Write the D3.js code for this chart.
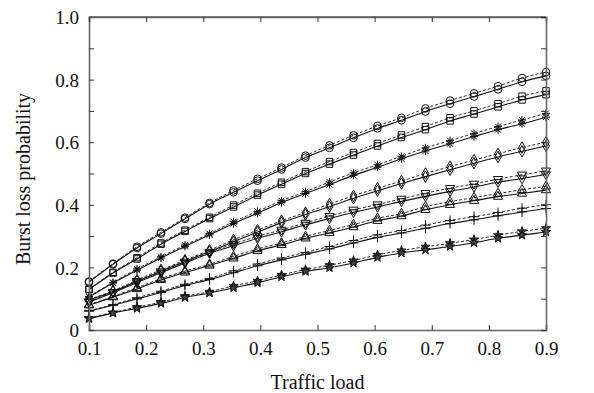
<!DOCTYPE html>
<html>
<head>
<meta charset="utf-8">
<script src="https://cdn.jsdelivr.net/npm/d3@7"></script>
<style>
  body { margin: 0; background: #fff; }
  svg text { font-family: "Liberation Serif", "Times New Roman", serif; fill: #111; }
</style>
</head>
<body>
<div id="chart"></div>
<script>
var svgWidth = 594;
var svgHeight = 393;

var margin = { top: 17, right: 48, bottom: 63, left: 89 };
var width = svgWidth - margin.left - margin.right;
var height = svgHeight - margin.top - margin.bottom;

// traffic load values (20 points from 0.1 to 0.9)
var loads = [0.1, 0.142, 0.184, 0.226, 0.268, 0.311, 0.353, 0.395, 0.437, 0.479,
  0.521, 0.563, 0.605, 0.647, 0.689, 0.732, 0.774, 0.816, 0.858, 0.9];

var xTicks = [0.1, 0.2, 0.3, 0.4, 0.5, 0.6, 0.7, 0.8, 0.9];
var yTicks = [0, 0.1, 0.2, 0.3, 0.4, 0.5, 0.6, 0.7, 0.8, 0.9, 1.0];

// burst loss probability, solid and dashed curve per marker
var circleSolid = [0.153, 0.210, 0.262, 0.308, 0.355, 0.402, 0.440, 0.477, 0.513, 0.551, 0.582, 0.614, 0.644, 0.670, 0.698, 0.723, 0.746, 0.769, 0.793, 0.812];
var circleDashed = [0.155, 0.212, 0.266, 0.312, 0.359, 0.406, 0.446, 0.483, 0.519, 0.557, 0.590, 0.622, 0.652, 0.678, 0.708, 0.733, 0.756, 0.779, 0.805, 0.824];
var squareSolid = [0.129, 0.182, 0.227, 0.274, 0.315, 0.356, 0.393, 0.431, 0.466, 0.500, 0.530, 0.559, 0.588, 0.615, 0.640, 0.668, 0.690, 0.713, 0.735, 0.752];
var squareDashed = [0.131, 0.184, 0.231, 0.278, 0.319, 0.360, 0.399, 0.437, 0.472, 0.506, 0.538, 0.567, 0.596, 0.623, 0.650, 0.678, 0.700, 0.723, 0.747, 0.764];
var asteriskSolid = [0.105, 0.150, 0.191, 0.230, 0.267, 0.304, 0.340, 0.373, 0.407, 0.436, 0.465, 0.494, 0.520, 0.547, 0.572, 0.595, 0.618, 0.640, 0.659, 0.680];
var asteriskDashed = [0.107, 0.152, 0.195, 0.234, 0.271, 0.308, 0.346, 0.379, 0.413, 0.442, 0.473, 0.502, 0.528, 0.555, 0.582, 0.605, 0.628, 0.650, 0.671, 0.692];
var diamondSolid = [0.096, 0.123, 0.156, 0.188, 0.219, 0.251, 0.282, 0.313, 0.343, 0.369, 0.394, 0.421, 0.445, 0.468, 0.490, 0.512, 0.533, 0.553, 0.571, 0.588];
var diamondDashed = [0.098, 0.125, 0.160, 0.192, 0.223, 0.255, 0.288, 0.319, 0.349, 0.375, 0.402, 0.429, 0.453, 0.476, 0.500, 0.522, 0.543, 0.563, 0.583, 0.600];
var triDownSolid = [0.089, 0.119, 0.152, 0.183, 0.214, 0.245, 0.269, 0.293, 0.314, 0.336, 0.356, 0.376, 0.393, 0.411, 0.427, 0.443, 0.457, 0.472, 0.484, 0.497];
var triDownDashed = [0.091, 0.121, 0.156, 0.187, 0.218, 0.249, 0.275, 0.299, 0.320, 0.342, 0.364, 0.384, 0.401, 0.419, 0.437, 0.453, 0.467, 0.482, 0.496, 0.509];
var triUpSolid = [0.079, 0.105, 0.131, 0.160, 0.184, 0.206, 0.229, 0.253, 0.272, 0.293, 0.310, 0.329, 0.349, 0.364, 0.384, 0.400, 0.413, 0.426, 0.436, 0.447];
var triUpDashed = [0.081, 0.107, 0.135, 0.164, 0.188, 0.210, 0.235, 0.259, 0.278, 0.299, 0.318, 0.337, 0.357, 0.372, 0.394, 0.410, 0.423, 0.436, 0.448, 0.459];
var plusSolid = [0.060, 0.079, 0.099, 0.120, 0.142, 0.161, 0.183, 0.205, 0.224, 0.242, 0.259, 0.278, 0.296, 0.310, 0.325, 0.340, 0.352, 0.365, 0.377, 0.388];
var plusDashed = [0.062, 0.081, 0.103, 0.124, 0.146, 0.165, 0.189, 0.211, 0.230, 0.248, 0.267, 0.286, 0.304, 0.318, 0.335, 0.350, 0.362, 0.375, 0.389, 0.400];
var starSolid = [0.036, 0.054, 0.069, 0.085, 0.104, 0.118, 0.135, 0.151, 0.170, 0.187, 0.199, 0.214, 0.232, 0.246, 0.256, 0.267, 0.279, 0.293, 0.303, 0.313];
var starDashed = [0.038, 0.056, 0.073, 0.089, 0.108, 0.122, 0.141, 0.157, 0.176, 0.193, 0.207, 0.222, 0.240, 0.254, 0.266, 0.277, 0.289, 0.303, 0.315, 0.325];

var series = [
  { marker: "circle", solid: circleSolid, dashed: circleDashed },
  { marker: "square", solid: squareSolid, dashed: squareDashed },
  { marker: "asterisk", solid: asteriskSolid, dashed: asteriskDashed },
  { marker: "diamond", solid: diamondSolid, dashed: diamondDashed },
  { marker: "triDown", solid: triDownSolid, dashed: triDownDashed },
  { marker: "triUp", solid: triUpSolid, dashed: triUpDashed },
  { marker: "plus", solid: plusSolid, dashed: plusDashed },
  { marker: "star", solid: starSolid, dashed: starDashed }
];

var serif = "Liberation Serif, Times New Roman, serif";

var svg = d3.select("#chart")
  .append("svg")
  .attr("width", svgWidth)
  .attr("height", svgHeight);

var chartGroup = svg.append("g")
  .attr("transform", `translate(${margin.left}, ${margin.top})`);

var xScale = d3.scaleLinear().domain([0.1, 0.9]).range([0, width]);
var yScale = d3.scaleLinear().domain([0, 1]).range([height, 0]);

// marker shapes
function markerPath(type) {
  if (type === "circle") return d3.symbol(d3.symbolCircle, 46)();
  if (type === "square") return d3.symbol(d3.symbolSquare, 42)();
  if (type === "diamond") return d3.symbol(d3.symbolDiamond, 38)();
  if (type === "triUp") return d3.symbol(d3.symbolTriangle, 36)();
  if (type === "triDown") return d3.symbol(d3.symbolTriangle, 36)();
  if (type === "star") return d3.symbol(d3.symbolStar, 26)();
  if (type === "plus") return "M-5,0H5M0,-5V5";
  // asterisk
  return "M-4,0H4M0,-4V4M-3,-3L3,3M-3,3L3,-3";
}

var line = d3.line()
  .x((d, i) => xScale(loads[i]))
  .y(d => yScale(d))
  .curve(d3.curveMonotoneX);

series.forEach(function(s) {
  var g = chartGroup.append("g");

  g.append("path")
    .attr("d", line(s.dashed))
    .attr("fill", "none")
    .attr("stroke", "#111")
    .attr("stroke-width", 0.9)
    .attr("stroke-dasharray", "3,2");

  g.append("path")
    .attr("d", line(s.solid))
    .attr("fill", "none")
    .attr("stroke", "#111")
    .attr("stroke-width", 1.1);

  [s.dashed, s.solid].forEach(function(vals) {
    g.selectAll(null)
      .data(vals)
      .enter()
      .append("path")
      .attr("d", markerPath(s.marker))
      .attr("transform", (d, i) => `translate(${xScale(loads[i])}, ${yScale(d)})` + (s.marker === "triDown" ? " rotate(180)" : ""))
      .attr("fill", s.marker === "star" ? "#444" : "none")
      .attr("stroke", "#111")
      .attr("stroke-width", 1);
  });
});

// top frame line
chartGroup.append("line")
  .attr("x1", 0).attr("x2", width).attr("y1", 0).attr("y2", 0)
  .attr("stroke", "#000").attr("stroke-width", 1);

// axes with inward ticks
var bottomAxis = d3.axisBottom(xScale)
  .tickValues(xTicks)
  .tickSize(-5)
  .tickPadding(12)
  .tickFormat(d3.format(".1f"));

var leftAxis = d3.axisLeft(yScale)
  .tickValues(yTicks)
  .tickSize(-5)
  .tickPadding(10)
  .tickFormat(d => (Math.round(d * 10) % 2 === 0) ? (d === 0 ? "0" : d3.format(".1f")(d)) : "");

var topAxis = d3.axisTop(xScale).tickValues(xTicks).tickSize(-5).tickFormat("");
var rightAxis = d3.axisRight(yScale).tickValues(yTicks).tickSize(-5).tickFormat("");

var xAxis = chartGroup.append("g")
  .attr("transform", `translate(0, ${height})`)
  .call(bottomAxis);

var yAxis = chartGroup.append("g").call(leftAxis);
chartGroup.append("g").call(topAxis);
chartGroup.append("g").attr("transform", `translate(${width}, 0)`).call(rightAxis);

chartGroup.selectAll(".domain")
  .attr("stroke", "#666")
  .attr("stroke-width", 1.6);
chartGroup.selectAll(".tick line").attr("stroke", "#333");

xAxis.attr("font-family", serif).attr("font-size", 19);
yAxis.attr("font-family", serif).attr("font-size", 19);
xAxis.selectAll("text").attr("fill", "#111");
yAxis.selectAll("text").attr("fill", "#111").attr("dy", "0.35em");

// axis titles
svg.append("text")
  .attr("x", margin.left + width / 2)
  .attr("y", 389)
  .attr("text-anchor", "middle")
  .attr("font-family", serif)
  .attr("font-size", 20)
  .text("Traffic load");

svg.append("text")
  .attr("transform", "translate(30, 179) rotate(-90)")
  .attr("text-anchor", "middle")
  .attr("font-family", serif)
  .attr("font-size", 20)
  .text("Burst loss probability");
</script>
</body>
</html>
